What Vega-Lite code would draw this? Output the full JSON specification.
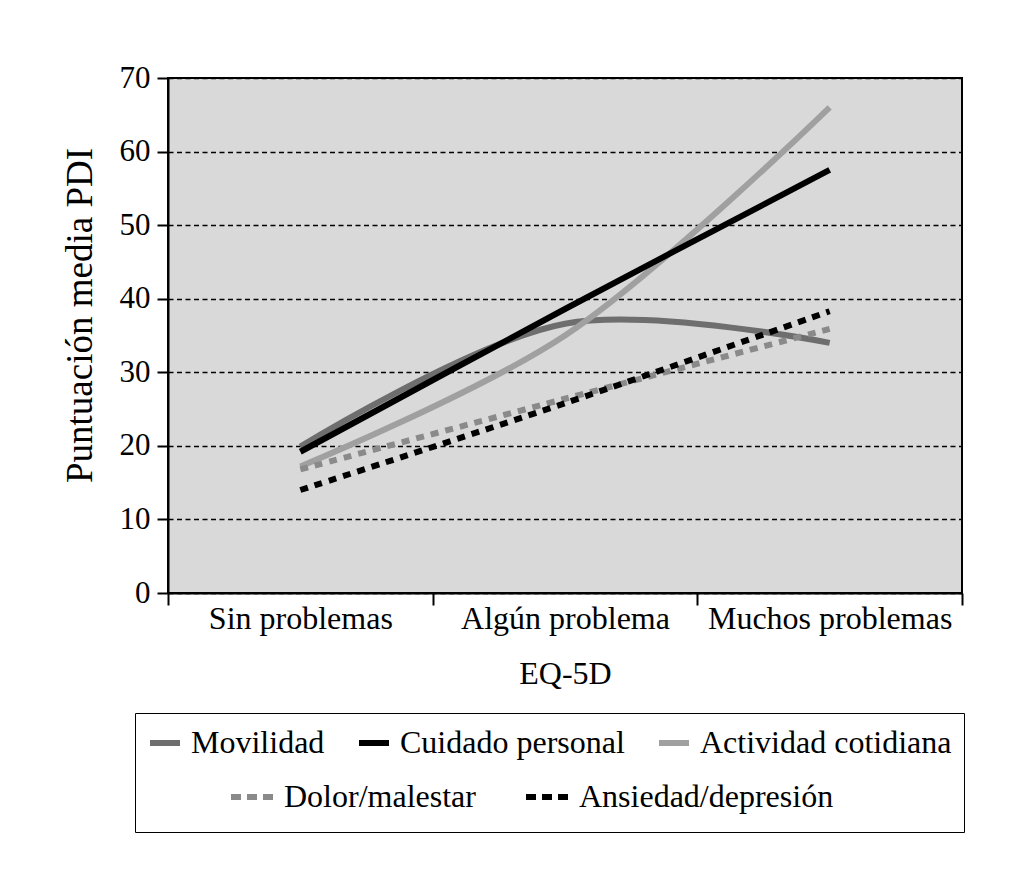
{
  "$schema": "https://vega.github.io/schema/vega-lite/v6.json",
  "width": 794,
  "height": 515,
  "autosize": {"type": "none"},
  "padding": {"left": 168, "top": 78, "right": 62, "bottom": 288},
  "background": "white",
  "data": {
    "values": [
      {"serie": "Movilidad", "eq5d": "Sin problemas", "pdi": 19.9},
      {"serie": "Movilidad", "eq5d": "Algún problema", "pdi": 36.6},
      {"serie": "Movilidad", "eq5d": "Muchos problemas", "pdi": 34.0},
      {"serie": "Actividad cotidiana", "eq5d": "Sin problemas", "pdi": 17.2},
      {"serie": "Actividad cotidiana", "eq5d": "Algún problema", "pdi": 35.0},
      {"serie": "Actividad cotidiana", "eq5d": "Muchos problemas", "pdi": 66.0},
      {"serie": "Cuidado personal", "eq5d": "Sin problemas", "pdi": 19.2},
      {"serie": "Cuidado personal", "eq5d": "Algún problema", "pdi": 38.6},
      {"serie": "Cuidado personal", "eq5d": "Muchos problemas", "pdi": 57.5},
      {"serie": "Dolor/malestar", "eq5d": "Sin problemas", "pdi": 16.8},
      {"serie": "Dolor/malestar", "eq5d": "Algún problema", "pdi": 26.4},
      {"serie": "Dolor/malestar", "eq5d": "Muchos problemas", "pdi": 35.9},
      {"serie": "Ansiedad/depresión", "eq5d": "Sin problemas", "pdi": 14.0},
      {"serie": "Ansiedad/depresión", "eq5d": "Algún problema", "pdi": 25.8},
      {"serie": "Ansiedad/depresión", "eq5d": "Muchos problemas", "pdi": 38.3}
    ]
  },
  "layer": [
    {
      "transform": [{"filter": {"field": "serie", "oneOf": ["Movilidad", "Cuidado personal", "Actividad cotidiana"]}}],
      "mark": {"type": "line", "interpolate": "catmull-rom", "strokeWidth": 6},
      "encoding": {
        "x": {
          "field": "eq5d", "type": "nominal",
          "sort": ["Sin problemas", "Algún problema", "Muchos problemas"],
          "scale": {"type": "band", "paddingInner": 0, "paddingOuter": 0},
          "title": "EQ-5D",
          "axis": {"labelAngle": 0, "tickBand": "extent", "tickSize": 12, "labelFontSize": 32, "labelLimit": 0, "titleFontSize": 32, "labelPadding": -2, "titlePadding": 24, "grid": false}
        },
        "y": {
          "field": "pdi", "type": "quantitative",
          "scale": {"domain": [0, 70], "nice": false},
          "title": "Puntuación media PDI",
          "axis": {"values": [0, 10, 20, 30, 40, 50, 60, 70], "grid": true, "gridColor": "black", "gridDash": [5, 3.5], "gridWidth": 1.5, "tickSize": 11, "labelPadding": 7, "labelFontSize": 31, "titleFontSize": 37, "titlePadding": 20, "titleY": 237}
        },
        "color": {
          "field": "serie", "type": "nominal",
          "scale": {"domain": ["Movilidad", "Cuidado personal", "Actividad cotidiana"], "range": ["#6e6e6e", "#000000", "#a0a0a0"]},
          "legend": {
            "title": " ", "titleOrient": "bottom", "titleFontSize": 56, "titlePadding": 6,
            "orient": "none", "legendX": -33, "legendY": 635,
            "direction": "horizontal", "strokeColor": "black", "padding": 12,
            "symbolType": "stroke", "symbolSize": 900, "symbolStrokeWidth": 6,
            "labelFontSize": 32, "labelOffset": 8, "columnPadding": 22, "labelLimit": 0
          }
        }
      }
    },
    {
      "transform": [{"filter": {"field": "serie", "oneOf": ["Dolor/malestar", "Ansiedad/depresión"]}}],
      "mark": {"type": "line", "interpolate": "catmull-rom", "strokeWidth": 6, "strokeDash": [8, 7]},
      "encoding": {
        "x": {"field": "eq5d", "type": "nominal", "sort": ["Sin problemas", "Algún problema", "Muchos problemas"]},
        "y": {"field": "pdi", "type": "quantitative"},
        "stroke": {
          "field": "serie", "type": "nominal",
          "scale": {"domain": ["Dolor/malestar", "Ansiedad/depresión"], "range": ["#8a8a8a", "#000000"]},
          "legend": {
            "title": null,
            "orient": "none", "legendX": 60, "legendY": 695,
            "direction": "horizontal", "padding": 0,
            "symbolType": "stroke", "symbolSize": 1764, "symbolStrokeWidth": 6, "symbolDash": [10, 6],
            "labelFontSize": 32, "labelOffset": 8, "columnPadding": 38, "labelLimit": 0
          }
        }
      }
    }
  ],
  "config": {
    "font": "Liberation Serif",
    "view": {"fill": "#d9d9d9", "stroke": "black", "strokeWidth": 2},
    "axis": {"labelFont": "Liberation Serif", "titleFont": "Liberation Serif", "labelColor": "black", "titleColor": "black", "titleFontWeight": "normal", "domainColor": "black", "tickColor": "black", "domainWidth": 2, "tickWidth": 2},
    "legend": {"labelFont": "Liberation Serif", "labelColor": "black", "titleFont": "Liberation Serif"}
  }
}
